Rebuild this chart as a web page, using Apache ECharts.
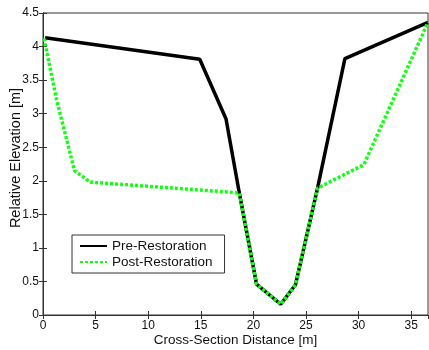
<!DOCTYPE html>
<html>
<head>
<meta charset="utf-8">
<script src="https://cdn.jsdelivr.net/npm/echarts@6/dist/echarts.min.js"></script>
<style>
  html, body { margin: 0; padding: 0; background: #fff; }
  #chart { width: 429px; height: 350px; }
</style>
</head>
<body>
<div id="chart"></div>
<script>
// cross-section profile
var preDist = [0.2, 14.9, 17.4, 18.65, 20.3, 22.6, 24.0, 26.1, 28.7, 36.6];
var preElev = [4.13, 3.81, 2.92, 1.83, 0.46, 0.16, 0.45, 1.89, 3.82, 4.36];
var postDist = [0.1, 1.3, 3.0, 4.5, 18.65, 20.3, 22.6, 24.0, 26.1, 30.5, 36.6];
var postElev = [4.12, 3.2, 2.15, 1.98, 1.82, 0.46, 0.16, 0.45, 1.89, 2.24, 4.36];

function pairs(xs, ys) {
    return xs.map(function (x, i) { return [x, ys[i]]; });
}

var font = 'Liberation Sans, Arial, sans-serif';
var myChart = echarts.init(document.getElementById('chart'));

myChart.setOption({
    animation: false,
    grid: {
        left: 43, right: 1, top: 13, bottom: 35,
        outerBoundsMode: 'none',
        show: true, borderColor: '#333', borderWidth: 1
    },
    legend: {
        orient: 'vertical',
        left: 72, top: 235,
        padding: [4, 12, 4, 7],
        itemGap: 2,
        itemWidth: 27, itemHeight: 12,
        borderColor: '#333', borderWidth: 1,
        backgroundColor: '#fff',
        itemStyle: { opacity: 0 },
        textStyle: { fontFamily: font, fontSize: 13.5, color: '#111' },
        data: ['Pre-Restoration', 'Post-Restoration']
    },
    xAxis: [{
        type: 'value', min: 0, max: 36.6, interval: 5,
        name: 'Cross-Section Distance [m]', nameLocation: 'middle', nameGap: 18,
        nameMoveOverlap: false,
        nameTextStyle: { fontFamily: font, fontSize: 13.5, color: '#111' },
        axisLine: { lineStyle: { color: '#333' } },
        axisTick: { inside: true, length: 4, lineStyle: { color: '#333' } },
        axisLabel: { fontFamily: font, fontSize: 12, color: '#111', margin: 5, showMaxLabel: false },
        splitLine: { show: false }
    }, {
        type: 'value', position: 'top', min: 0, max: 36.6, interval: 5,
        axisLine: { lineStyle: { color: '#333' } },
        axisTick: { inside: true, length: 4, lineStyle: { color: '#333' } },
        axisLabel: { show: false },
        splitLine: { show: false }
    }],
    yAxis: [{
        type: 'value', min: 0, max: 4.5, interval: 0.5,
        name: 'Relative Elevation [m]', nameLocation: 'middle', nameGap: 20,
        nameMoveOverlap: false,
        nameTextStyle: { fontFamily: font, fontSize: 14.5, color: '#111', padding: [0, 0, 0, 12] },
        axisLine: { show: true, lineStyle: { color: '#333' } },
        axisTick: { show: true, inside: true, length: 4, lineStyle: { color: '#333' } },
        axisLabel: { fontFamily: font, fontSize: 12, color: '#111', margin: 4 },
        splitLine: { show: false }
    }, {
        type: 'value', position: 'right', min: 0, max: 4.5, interval: 0.5,
        axisLine: { show: true, lineStyle: { color: '#333' } },
        axisTick: { show: true, inside: true, length: 4, lineStyle: { color: '#333' } },
        axisLabel: { show: false },
        splitLine: { show: false }
    }],
    series: [
        {
            name: 'Pre-Restoration',
            type: 'line',
            symbol: 'none',
            color: '#000',
            lineStyle: { color: '#000', width: 3.5 },
            data: pairs(preDist, preElev)
        },
        {
            name: 'Post-Restoration',
            type: 'line',
            symbol: 'none',
            color: '#11ff11',
            lineStyle: { color: '#11ff11', width: 3.5, type: [3, 2] },
            data: pairs(postDist, postElev)
        }
    ]
});
</script>
</body>
</html>
